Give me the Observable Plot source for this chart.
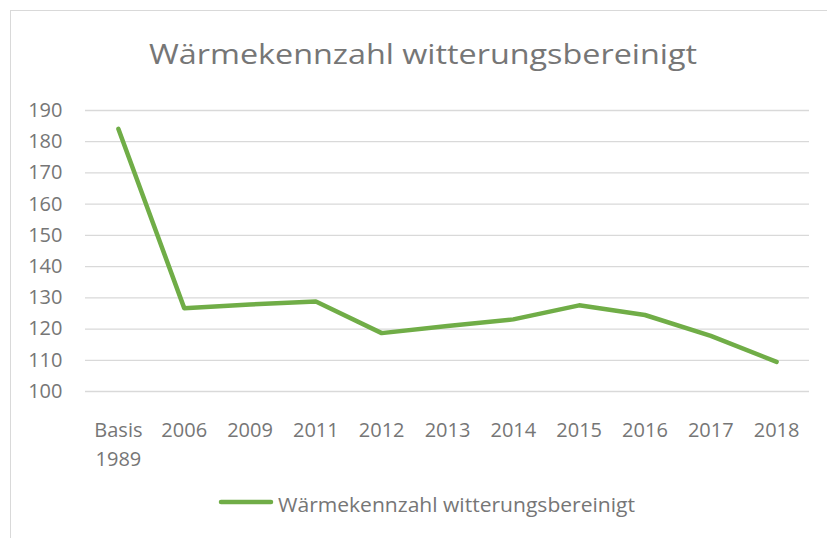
<!DOCTYPE html>
<html>
<head>
<meta charset="utf-8">
<script src="https://cdn.jsdelivr.net/npm/d3@7"></script>
<script src="https://cdn.jsdelivr.net/npm/@observablehq/plot@0.6"></script>
<style>
  html, body { margin: 0; padding: 0; background: #fff; }
  #wrap { position: relative; width: 827px; height: 538px; overflow: hidden; background: #fff; }
  #frame { position: absolute; left: 10px; top: 10px; width: 840px; height: 560px; border: 1px solid #d9d9d9; box-sizing: border-box; }
  .abs { position: absolute; left: 0; }
</style>
</head>
<body>
<div id="wrap"><div id="frame"></div></div>
<script>
const titleText = "Wärmekennzahl witterungsbereinigt";
const seriesName = "Wärmekennzahl witterungsbereinigt";
const categories = ["Basis\n1989", "2006", "2009", "2011", "2012", "2013", "2014", "2015", "2016", "2017", "2018"];
const values = [184.1, 126.7, 127.9, 128.8, 118.7, 121.0, 123.1, 127.6, 124.5, 117.8, 109.5];
const yTicks = [100, 110, 120, 130, 140, 150, 160, 170, 180, 190];

const green = "#70AD47";
const textColor = "#767676";
const font = "'Open Sans', sans-serif";
const wrap = document.getElementById("wrap");

// Title
const tsvg = d3.create("svg").attr("class", "abs").attr("width", 827).attr("height", 90).style("top", "0px");
tsvg.append("text").attr("x", 423).attr("y", 64).attr("text-anchor", "middle")
  .attr("font-family", font).attr("font-size", 28).attr("fill", textColor)
  .attr("textLength", 548).attr("lengthAdjust", "spacingAndGlyphs")
  .text(titleText);
wrap.appendChild(tsvg.node());

// Chart
const data = categories.map((c, i) => ({c, v: values[i]}));
const chart = Plot.plot({
  width: 827, height: 385,
  marginLeft: 85, marginRight: 18, marginTop: 20, marginBottom: 84,
  style: {fontFamily: font, fontSize: "20px", color: textColor, background: "transparent", overflow: "visible"},
  x: {type: "point", domain: categories, padding: 0.5, round: false, label: null},
  y: {domain: [100, 190], label: null},
  marks: [
    Plot.ruleY(yTicks, {stroke: "#d9d9d9", strokeWidth: 1.3}),
    Plot.line(data, {x: "c", y: "v", stroke: green, strokeWidth: 4.5, strokeLinecap: "round", strokeLinejoin: "round"}),
    Plot.axisX({tickSize: 0, tickPadding: 25, lineHeight: 1.45, fontSize: 20, fill: textColor}),
    Plot.axisY({ticks: yTicks, tickSize: 0, tickPadding: 23, fontSize: 20, fill: textColor})
  ]
});
chart.classList.add("abs");
chart.style.top = "90px";
wrap.appendChild(chart);

// Legend
const lsvg = d3.create("svg").attr("class", "abs").attr("width", 827).attr("height", 55).style("top", "475px");
lsvg.append("line").attr("x1", 221).attr("x2", 271).attr("y1", 27).attr("y2", 27)
  .attr("stroke", green).attr("stroke-width", 4.5).attr("stroke-linecap", "round");
lsvg.append("text").attr("x", 278).attr("y", 36.5)
  .attr("font-family", font).attr("font-size", 20).attr("fill", textColor)
  .attr("textLength", 357).attr("lengthAdjust", "spacingAndGlyphs")
  .text(seriesName);
wrap.appendChild(lsvg.node());
</script>
</body>
</html>
